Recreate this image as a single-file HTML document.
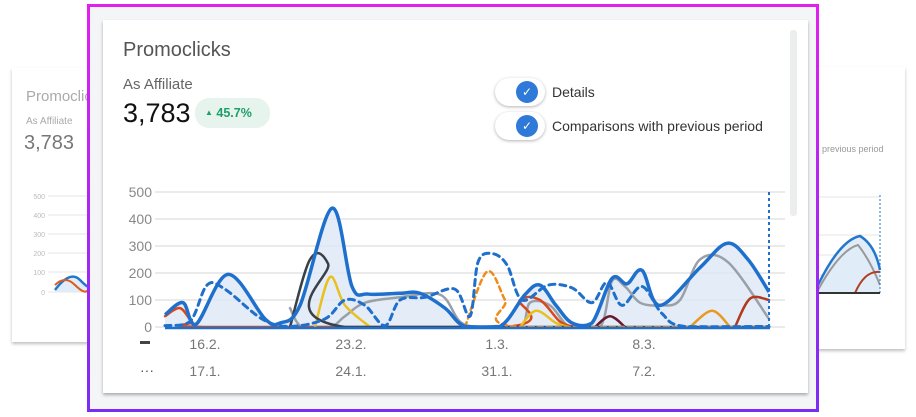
<!DOCTYPE html>
<html><head><meta charset="utf-8"><style>
body{margin:0;width:916px;height:417px;background:#fff;position:relative;overflow:hidden;font-family:"Liberation Sans",sans-serif}
.bg{position:absolute;background:#fff;box-shadow:0 2px 3px rgba(0,0,0,.25);}
.frame{position:absolute;left:87px;top:4px;width:726px;height:402px;border:3px solid;border-image:linear-gradient(#e31ff0,#7a2cf6) 1;background:#f4f5f6}
.card{position:absolute;left:103px;top:20px;width:705px;height:373px;background:#fff;box-shadow:0 2px 3px rgba(0,0,0,.3)}
.t{position:absolute;white-space:nowrap}
.pill{position:absolute;width:50px;height:28px;border-radius:14px;background:#fff;box-shadow:0 1px 3px rgba(0,0,0,.3)}
.dot{position:absolute;width:22px;height:22px;border-radius:11px;background:#2f7ad8;color:#fff;font-size:12px;text-align:center;line-height:22px}
</style></head><body>
<div class="bg" style="left:12px;top:68px;width:90px;height:274px"></div>
<div class="bg" style="left:815px;top:67px;width:90px;height:282px"></div>
<div class="t" style="left:26px;top:88px;font-size:15px;color:#aaa">Promoclicks</div>
<div class="t" style="left:26px;top:116px;font-size:10px;color:#aaa">As Affiliate</div>
<div class="t" style="left:24px;top:132px;font-size:20px;color:#777">3,783</div>
<div class="t" style="left:822px;top:144px;font-size:9px;color:#999">previous period</div>
<svg style="position:absolute;left:0;top:0" width="916" height="417">
<g stroke="#e4e4e4"><line x1="48" x2="88" y1="196" y2="196"/><line x1="48" x2="88" y1="215" y2="215"/><line x1="48" x2="88" y1="234" y2="234"/><line x1="48" x2="88" y1="253" y2="253"/><line x1="48" x2="88" y1="272" y2="272"/><line x1="48" x2="88" y1="292" y2="292"/>
<line x1="818" x2="880" y1="197" y2="197"/><line x1="818" x2="880" y1="235" y2="235"/><line x1="818" x2="880" y1="255" y2="255"/><line x1="818" x2="880" y1="275" y2="275"/></g>
<g font-size="7" fill="#bbb" text-anchor="end"><text x="45" y="199">500</text><text x="45" y="218">400</text><text x="45" y="237">300</text><text x="45" y="256">200</text><text x="45" y="275">100</text><text x="45" y="295">0</text></g>
<path d="M55 290 Q70 270 80 280 T88 285 V292 H55Z" fill="#e0ecf7"/><path d="M55 290 Q70 270 80 280 T88 285" stroke="#2277cc" stroke-width="2.5" fill="none"/><path d="M55 285 Q65 275 75 285 T88 290" stroke="#e05a1a" stroke-width="2" fill="none"/>
<path d="M818 285 Q840 240 860 236 Q875 245 880 270 V293 H818Z" fill="#e0ecf7"/><path d="M818 285 Q840 240 860 236 Q875 245 880 270" stroke="#2277cc" stroke-width="2.5" fill="none"/><path d="M818 290 Q840 250 858 245 Q870 260 880 285" stroke="#999" stroke-width="2" fill="none"/><path d="M855 293 Q865 270 880 272" stroke="#b04020" stroke-width="2" fill="none"/><line x1="880" y1="195" x2="880" y2="293" stroke="#2277cc" stroke-dasharray="2 2"/><line x1="818" y1="293" x2="880" y2="293" stroke="#333" stroke-width="2"/>
</svg>
<div class="frame"></div>
<div class="card"></div>
<div style="position:absolute;left:790px;top:30px;width:7px;height:186px;background:#eceded;border-radius:3px"></div>
<div class="t" style="left:123px;top:39px;font-size:20px;color:#555">Promoclicks</div>
<div class="t" style="left:123px;top:76px;font-size:15px;color:#666">As Affiliate</div>
<div class="t" style="left:123px;top:98px;font-size:27px;color:#111">3,783</div>
<div style="position:absolute;left:195px;top:98px;width:75px;height:30px;border-radius:14px;background:#e7f4ee"></div>
<div class="t" style="left:205px;top:106px;font-size:12.5px;color:#1e9e6a;font-weight:bold"><span style="font-size:8px;vertical-align:2px">▲</span> 45.7%</div>
<div class="pill" style="left:495px;top:78px"></div><div class="dot" style="left:516px;top:81px">✓</div>
<div class="pill" style="left:495px;top:112px"></div><div class="dot" style="left:516px;top:115px">✓</div>
<div class="t" style="left:552px;top:84px;font-size:14px;color:#333">Details</div>
<div class="t" style="left:552px;top:118px;font-size:14px;color:#333">Comparisons with previous period</div>
<svg id="c" style="position:absolute;left:0;top:0" width="916" height="417"></svg>
<script>
var s=document.getElementById('c'),h='';
[500,400,300,200,100,0].forEach(function(v){var y=327-v*0.27;h+='<line x1="155" x2="785" y1="'+y+'" y2="'+y+'" stroke="#e3e3e3" stroke-width="1.5"/><text x="152" y="'+(y+5)+'" font-size="14" fill="#888" text-anchor="end">'+v+'</text>';});
function P(a){var p=a.map(function(q){return[q[0],327-q[1]*0.27]});var d='M'+p[0][0]+' '+p[0][1];for(var i=0;i<p.length-1;i++){var p0=p[i-1]||p[i],p1=p[i],p2=p[i+1],p3=p[i+2]||p2;var c1=[p1[0]+(p2[0]-p0[0])/6,p1[1]+(p2[1]-p0[1])/6],c2=[p2[0]-(p3[0]-p1[0])/6,p2[1]-(p3[1]-p1[1])/6];c1[1]=Math.min(c1[1],327);c2[1]=Math.min(c2[1],327);d+=' C'+c1+' '+c2+' '+p2;}return d;}
var main=[[165,45],[183,90],[196,10],[228,195],[265,30],[280,15],[300,80],[332,440],[352,150],[368,122],[400,125],[420,125],[445,70],[465,2],[500,2],[525,120],[540,155],[556,80],[572,15],[592,15],[612,180],[627,160],[642,210],[660,80],[700,220],[727,310],[748,250],[769,130]];
var md=P(main);h+='<path d="'+md+' L769 327 L165 327Z" fill="#dde9f5" opacity=".8"/>';
function L(a,c,w,da){h+='<path d="'+P(a)+'" fill="none" stroke="'+c+'" stroke-width="'+w+'" '+(da?'stroke-dasharray="'+da+'"':'')+' stroke-linecap="round"/>';}
L([[290,70],[302,0],[330,0],[345,40],[365,90],[400,110],[440,120],[460,20],[480,0],[520,0],[530,90],[550,80],[570,0],[600,0],[612,170],[625,150],[640,90],[660,80],[680,100],[700,250],[728,240],[769,30]],'#9aa0a8',2.5);
L([[165,40],[180,70],[192,20],[205,0],[505,0],[520,100],[540,100],[560,20],[575,0]],'#d9481a',2.5);
L([[315,0],[330,185],[345,80],[370,0]],'#e8c020',2.5);
L([[520,0],[536,60],[556,15],[570,0]],'#e8c020',2.5);
L([[690,0],[712,60],[730,0]],'#e89a20',2.5);
L([[735,0],[750,105],[769,100]],'#b03a20',2.5);
L([[595,0],[610,40],[625,0]],'#6a1a30',2.5);
L([[290,0],[310,250],[328,235],[345,0],[769,0]],'#3a4048',2.5);
L([[465,0],[487,205],[505,100],[518,0],[769,0]],'#f08a1a',2.5,'5 4');
L([[165,5],[190,20],[207,155],[225,140],[262,30],[290,2],[325,30],[345,100],[365,80],[385,5],[400,100],[425,110],[455,140],[470,40],[478,240],[492,272],[507,230],[522,100],[548,155],[572,145],[592,90],[607,165],[622,80],[642,150],[662,50],[685,2],[769,2]],'#1f70cc',3,'6 5');
h+='<path d="'+md+'" fill="none" stroke="#1f70cc" stroke-width="3.5"/>';
h+='<line x1="769" y1="192" x2="769" y2="327" stroke="#1f70cc" stroke-width="2" stroke-dasharray="3 3"/>';
h+='<line x1="165" y1="328" x2="770" y2="328" stroke="#1f70cc" stroke-width="2.5"/>';
h+='<rect x="140" y="341" width="10" height="3" fill="#444"/><text x="140" y="375" font-size="14" fill="#555">···</text>';
[[205,'16.2.','17.1.'],[351,'23.2.','24.1.'],[497,'1.3.','31.1.'],[644,'8.3.','7.2.']].forEach(function(l){h+='<text x="'+l[0]+'" y="349" font-size="14" fill="#777" text-anchor="middle">'+l[1]+'</text><text x="'+l[0]+'" y="376" font-size="14" fill="#777" text-anchor="middle">'+l[2]+'</text>';});
s.innerHTML=h;
</script>
</body></html>
